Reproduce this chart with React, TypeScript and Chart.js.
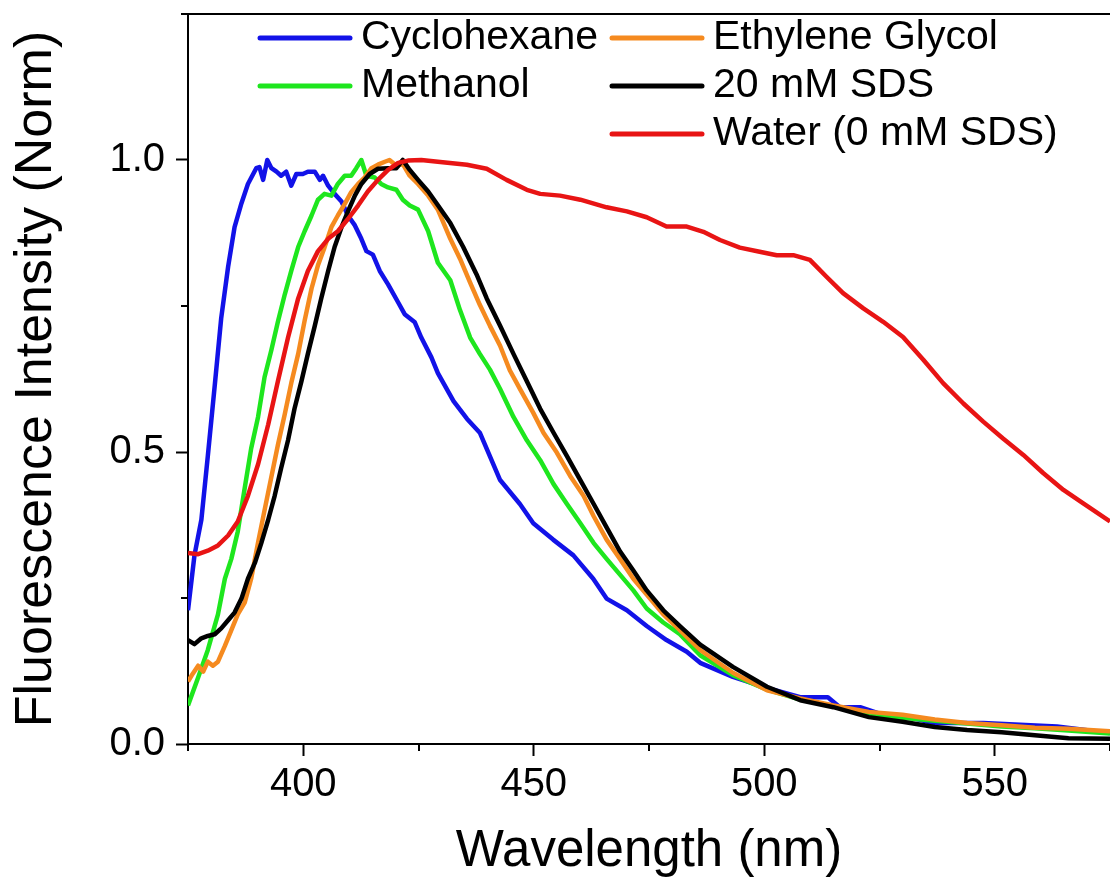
import React, { useEffect, useRef } from "react";
import { Chart, registerables } from "chart.js";

Chart.register(...registerables);

// ---------- data ----------
const seriesLabels = ["Cyclohexane", "Methanol", "Ethylene Glycol", "20 mM SDS", "Water (0 mM SDS)"];
const seriesColors = ["#1212e8", "#1ee61e", "#f58a1f", "#000000", "#e81414"];

const cyclohexaneNm = [375, 376.4, 377.9, 379.3, 380.8, 382.2, 383.7, 385.1, 386.6, 388, 389.8, 390.5, 391.3, 392.2, 393.1, 394.2, 395.2, 396.3, 397.4, 398.5, 399.9, 401, 402.5, 403.6, 404.3, 405.4, 406.8, 408.3, 409.7, 411.2, 412.6, 413.7, 415.1, 416.6, 418.4, 420.6, 422, 424.2, 425.6, 427.8, 429.2, 432.6, 435.5, 438.3, 442.7, 447, 449.9, 454.2, 458.6, 462.9, 465.8, 470.2, 474.5, 478.8, 483.2, 486.1, 493.2, 500.6, 507.8, 513.8, 516.4, 520.8, 525.8, 530.9, 536.6, 544, 547.5, 555.5, 563.5, 575];
const cyclohexaneI = [0.229, 0.323, 0.384, 0.493, 0.614, 0.729, 0.817, 0.885, 0.926, 0.959, 0.986, 0.988, 0.966, 1.0, 0.986, 0.98, 0.973, 0.98, 0.956, 0.976, 0.976, 0.98, 0.98, 0.966, 0.973, 0.956, 0.942, 0.929, 0.905, 0.888, 0.865, 0.844, 0.838, 0.81, 0.787, 0.756, 0.736, 0.722, 0.696, 0.662, 0.635, 0.587, 0.557, 0.533, 0.452, 0.411, 0.378, 0.35, 0.323, 0.283, 0.249, 0.229, 0.202, 0.178, 0.158, 0.139, 0.115, 0.096, 0.08, 0.08, 0.063, 0.063, 0.05, 0.047, 0.036, 0.036, 0.036, 0.033, 0.03, 0.019];

const methanolNm = [375, 377.2, 379.3, 381.5, 383, 384.4, 385.8, 387.3, 388.7, 390.2, 391.6, 393.1, 394.5, 396, 397.4, 398.9, 400.3, 401.8, 403.2, 404.6, 406.1, 407.5, 409, 410.4, 411.5, 412.6, 413.7, 415.5, 416.9, 418.4, 420.2, 421.6, 423.1, 424.9, 427.1, 429.2, 431.9, 434, 436.2, 438.3, 440.5, 442.7, 445.6, 448.5, 451.4, 454.3, 457.2, 460.1, 463, 465.8, 468.7, 471.6, 474.5, 478.1, 481.7, 486.1, 493.2, 500.6, 507.8, 515, 522.7, 530, 537, 544, 551.5, 558.7, 566, 575];
const methanolI = [0.066, 0.114, 0.161, 0.222, 0.283, 0.317, 0.364, 0.438, 0.506, 0.56, 0.628, 0.675, 0.723, 0.77, 0.81, 0.851, 0.878, 0.905, 0.932, 0.942, 0.939, 0.959, 0.973, 0.973, 0.986, 1.0, 0.973, 0.97, 0.959, 0.953, 0.949, 0.932, 0.922, 0.915, 0.878, 0.824, 0.794, 0.743, 0.696, 0.668, 0.641, 0.608, 0.56, 0.52, 0.486, 0.445, 0.411, 0.378, 0.344, 0.317, 0.29, 0.263, 0.232, 0.208, 0.188, 0.152, 0.118, 0.093, 0.076, 0.065, 0.052, 0.045, 0.04, 0.035, 0.03, 0.027, 0.023, 0.018];

const glycolNm = [375, 376, 377.2, 378.3, 379.3, 380.4, 381.5, 383, 384.4, 385.8, 387.3, 388.7, 390.2, 391.6, 393.1, 394.5, 396, 397.4, 398.9, 400.3, 401.8, 403.2, 404.6, 406.1, 407.5, 409, 410.4, 411.9, 413.3, 414.8, 416.2, 417.7, 418.7, 420.2, 421.6, 423.1, 424.9, 427.1, 429.2, 431.9, 434, 436.2, 438.3, 440.5, 442.7, 444.8, 447, 449.9, 452.1, 455, 457.9, 460.8, 463, 465.8, 468.7, 471.6, 474.5, 478.1, 481.7, 486.1, 493.2, 500.6, 507.8, 515, 522.7, 530, 537, 544, 551.5, 558.7, 566, 575];
const glycolI = [0.107, 0.12, 0.134, 0.124, 0.141, 0.134, 0.141, 0.168, 0.195, 0.222, 0.242, 0.283, 0.345, 0.4, 0.458, 0.512, 0.565, 0.618, 0.668, 0.725, 0.78, 0.82, 0.85, 0.885, 0.905, 0.925, 0.945, 0.959, 0.97, 0.986, 0.992, 0.997, 1.0, 0.99, 0.993, 0.973, 0.959, 0.939, 0.915, 0.865, 0.831, 0.79, 0.752, 0.716, 0.682, 0.64, 0.608, 0.567, 0.533, 0.499, 0.459, 0.425, 0.39, 0.35, 0.317, 0.283, 0.256, 0.222, 0.195, 0.161, 0.122, 0.092, 0.078, 0.066, 0.055, 0.05, 0.042, 0.036, 0.032, 0.028, 0.026, 0.022];

const sdsNm = [375, 376.4, 377.9, 379.3, 380.8, 382.2, 383.7, 385.1, 386.6, 388, 389.5, 390.9, 392.4, 393.8, 395.2, 396.7, 398.1, 399.6, 401, 402.5, 403.9, 405.4, 406.8, 408.3, 409.7, 411.2, 412.6, 414.4, 416.2, 418.4, 420.2, 421.6, 423.1, 424.9, 427.1, 428.9, 431.9, 434.7, 437.6, 439.8, 442.7, 445.6, 448.5, 451.4, 454.3, 457.2, 460.1, 463, 465.8, 468.7, 471.6, 474.5, 478.1, 481.7, 486.1, 493.2, 500.6, 507.8, 515, 522.7, 530, 537, 544, 551.5, 558.7, 566, 575];
const sdsI = [0.178, 0.171, 0.181, 0.185, 0.188, 0.198, 0.212, 0.225, 0.249, 0.283, 0.31, 0.344, 0.384, 0.425, 0.472, 0.52, 0.574, 0.621, 0.668, 0.716, 0.763, 0.81, 0.851, 0.885, 0.912, 0.939, 0.959, 0.976, 0.985, 0.986, 0.986, 1.0, 0.983, 0.966, 0.946, 0.926, 0.892, 0.851, 0.804, 0.763, 0.716, 0.668, 0.621, 0.574, 0.533, 0.493, 0.452, 0.411, 0.371, 0.33, 0.297, 0.263, 0.229, 0.202, 0.17, 0.132, 0.098, 0.075, 0.063, 0.046, 0.038, 0.029, 0.024, 0.02, 0.015, 0.01, 0.009];

const waterNm = [375, 377.2, 379.3, 381.5, 383.7, 385.8, 388, 390.2, 392.4, 394.5, 396.7, 398.9, 401, 403.2, 405.4, 407.5, 409.7, 411.9, 414, 416.2, 418.4, 420.6, 422.7, 425.6, 429.2, 435.5, 439.8, 444.1, 448.5, 451.4, 455.7, 460.1, 465.8, 470.2, 474.5, 478.8, 483.2, 486.8, 490.4, 494.7, 499, 502.7, 506.3, 509.9, 513.5, 517.1, 521.5, 525.8, 530.1, 534.5, 538.8, 543.2, 547.5, 551.8, 556.2, 560.5, 564.9, 569.2, 575];
const waterI = [0.327, 0.325, 0.331, 0.34, 0.357, 0.381, 0.425, 0.479, 0.547, 0.621, 0.696, 0.763, 0.81, 0.844, 0.865, 0.878, 0.899, 0.922, 0.946, 0.966, 0.983, 0.995, 0.999, 1.0, 0.997, 0.992, 0.985, 0.966, 0.949, 0.942, 0.939, 0.932, 0.919, 0.912, 0.902, 0.886, 0.886, 0.877, 0.863, 0.85, 0.843, 0.837, 0.837, 0.829, 0.8, 0.772, 0.746, 0.723, 0.697, 0.658, 0.618, 0.583, 0.552, 0.523, 0.495, 0.464, 0.435, 0.412, 0.381];

const xMin = 375;
const xMax = 575;
const yMin = 0;
const yMax = 1.25;
const xTickValues = [400, 450, 500, 550];
const yTickValues = [0, 0.5, 1.0];
const xMinorTicks = [375, 425, 475, 525, 575];
const yMinorTicks = [0.25, 0.75, 1.25];

const FONT = 'Arial, "Liberation Sans", sans-serif';

const zip = (xs: number[], ys: number[]) => xs.map((x, i) => ({ x, y: ys[i] }));

const minorTickPlugin = {
  id: "minorTicksAndFrame",
  afterDraw(chart: any) {
    const { ctx, chartArea, scales } = chart;
    ctx.save();
    ctx.strokeStyle = "#000";
    ctx.lineWidth = 2;
    ctx.beginPath();
    ctx.moveTo(chartArea.left - 1, chartArea.top);
    ctx.lineTo(chartArea.right, chartArea.top);
    for (const v of xMinorTicks) {
      const px = Math.round(scales.x.getPixelForValue(v));
      ctx.moveTo(px, chartArea.bottom);
      ctx.lineTo(px, chartArea.bottom + 7);
    }
    for (const v of yMinorTicks) {
      const py = Math.round(scales.y.getPixelForValue(v));
      ctx.moveTo(chartArea.left, py);
      ctx.lineTo(chartArea.left - 7, py);
    }
    ctx.stroke();
    ctx.restore();
  },
};

const legendPlugin = {
  id: "columnLegend",
  afterDraw(chart: any) {
    const { ctx, chartArea } = chart;
    const slots = [
      { col: 0, row: 0 },
      { col: 0, row: 1 },
      { col: 1, row: 0 },
      { col: 1, row: 1 },
      { col: 1, row: 2 },
    ];
    const colX = [chartArea.left + 72, chartArea.left + 424];
    ctx.save();
    ctx.font = `41px ${FONT}`;
    ctx.textBaseline = "middle";
    ctx.textAlign = "left";
    chart.data.datasets.forEach((ds: any, i: number) => {
      const s = slots[i];
      const x0 = colX[s.col];
      const y = chartArea.top + 24 + s.row * 48;
      ctx.strokeStyle = ds.borderColor;
      ctx.lineWidth = 5;
      ctx.lineCap = "round";
      ctx.beginPath();
      ctx.moveTo(x0, y);
      ctx.lineTo(x0 + 90, y);
      ctx.stroke();
      ctx.fillStyle = "#000";
      ctx.fillText(ds.label, x0 + 101, y);
    });
    ctx.restore();
  },
};

export default function App() {
  const canvasRef = useRef<HTMLCanvasElement | null>(null);

  useEffect(() => {
    if (!canvasRef.current) return;
    Chart.defaults.font.family = FONT;
    Chart.defaults.color = "#000";

    const seriesData = [
      zip(cyclohexaneNm, cyclohexaneI),
      zip(methanolNm, methanolI),
      zip(glycolNm, glycolI),
      zip(sdsNm, sdsI),
      zip(waterNm, waterI),
    ];

    const datasets = seriesData.map((d, i) => ({
      label: seriesLabels[i],
      data: d,
      borderColor: seriesColors[i],
      backgroundColor: seriesColors[i],
      borderWidth: 4.5,
      pointRadius: 0,
      tension: 0,
      fill: false,
      order: 5 - i,
      borderJoinStyle: "round" as const,
    }));

    const chart = new Chart(canvasRef.current, {
      type: "line",
      data: { datasets },
      plugins: [minorTickPlugin, legendPlugin],
      options: {
        animation: false,
        responsive: true,
        maintainAspectRatio: false,
        layout: { padding: { top: 14, right: 0, left: 0, bottom: 0 } },
        plugins: {
          legend: { display: false },
          tooltip: { enabled: false },
        },
        scales: {
          x: {
            type: "linear",
            min: xMin,
            max: xMax,
            afterBuildTicks: (scale: any) => {
              scale.ticks = xTickValues.map((v) => ({ value: v }));
            },
            afterFit: (scale: any) => {
              scale.height = 140;
              scale.paddingLeft = 0;
              scale.paddingRight = 0;
            },
            ticks: {
              padding: 5,
              maxRotation: 0,
              autoSkip: false,
              font: { size: 40 },
              color: "#000",
            },
            grid: {
              drawOnChartArea: false,
              drawTicks: true,
              tickLength: 12,
              tickColor: "#000",
              tickWidth: 2,
            },
            border: { display: true, color: "#000", width: 2 },
            title: {
              display: true,
              text: "Wavelength (nm)",
              font: { size: 51 },
              color: "#000",
              padding: { top: 0, bottom: 1 },
            },
          },
          y: {
            type: "linear",
            min: yMin,
            max: yMax,
            afterBuildTicks: (scale: any) => {
              scale.ticks = yTickValues.map((v) => ({ value: v }));
            },
            afterFit: (scale: any) => {
              scale.width = 188;
              scale.paddingTop = 0;
              scale.paddingBottom = 0;
            },
            ticks: {
              padding: 11,
              autoSkip: false,
              font: { size: 40 },
              color: "#000",
              callback: (v: any) => Number(v).toFixed(1),
            },
            grid: {
              drawOnChartArea: false,
              drawTicks: true,
              tickLength: 12,
              tickColor: "#000",
              tickWidth: 2,
            },
            border: { display: true, color: "#000", width: 2 },
            title: {
              display: true,
              text: "Fluorescence Intensity (Norm)",
              font: { size: 52 },
              color: "#000",
              padding: { top: 5, bottom: 0 },
            },
          },
        },
      },
    });

    return () => chart.destroy();
  }, []);

  return (
    <div style={{ position: "fixed", left: 0, top: 0, width: 1110, height: 884, background: "#fff" }}>
      <canvas ref={canvasRef} />
    </div>
  );
}
